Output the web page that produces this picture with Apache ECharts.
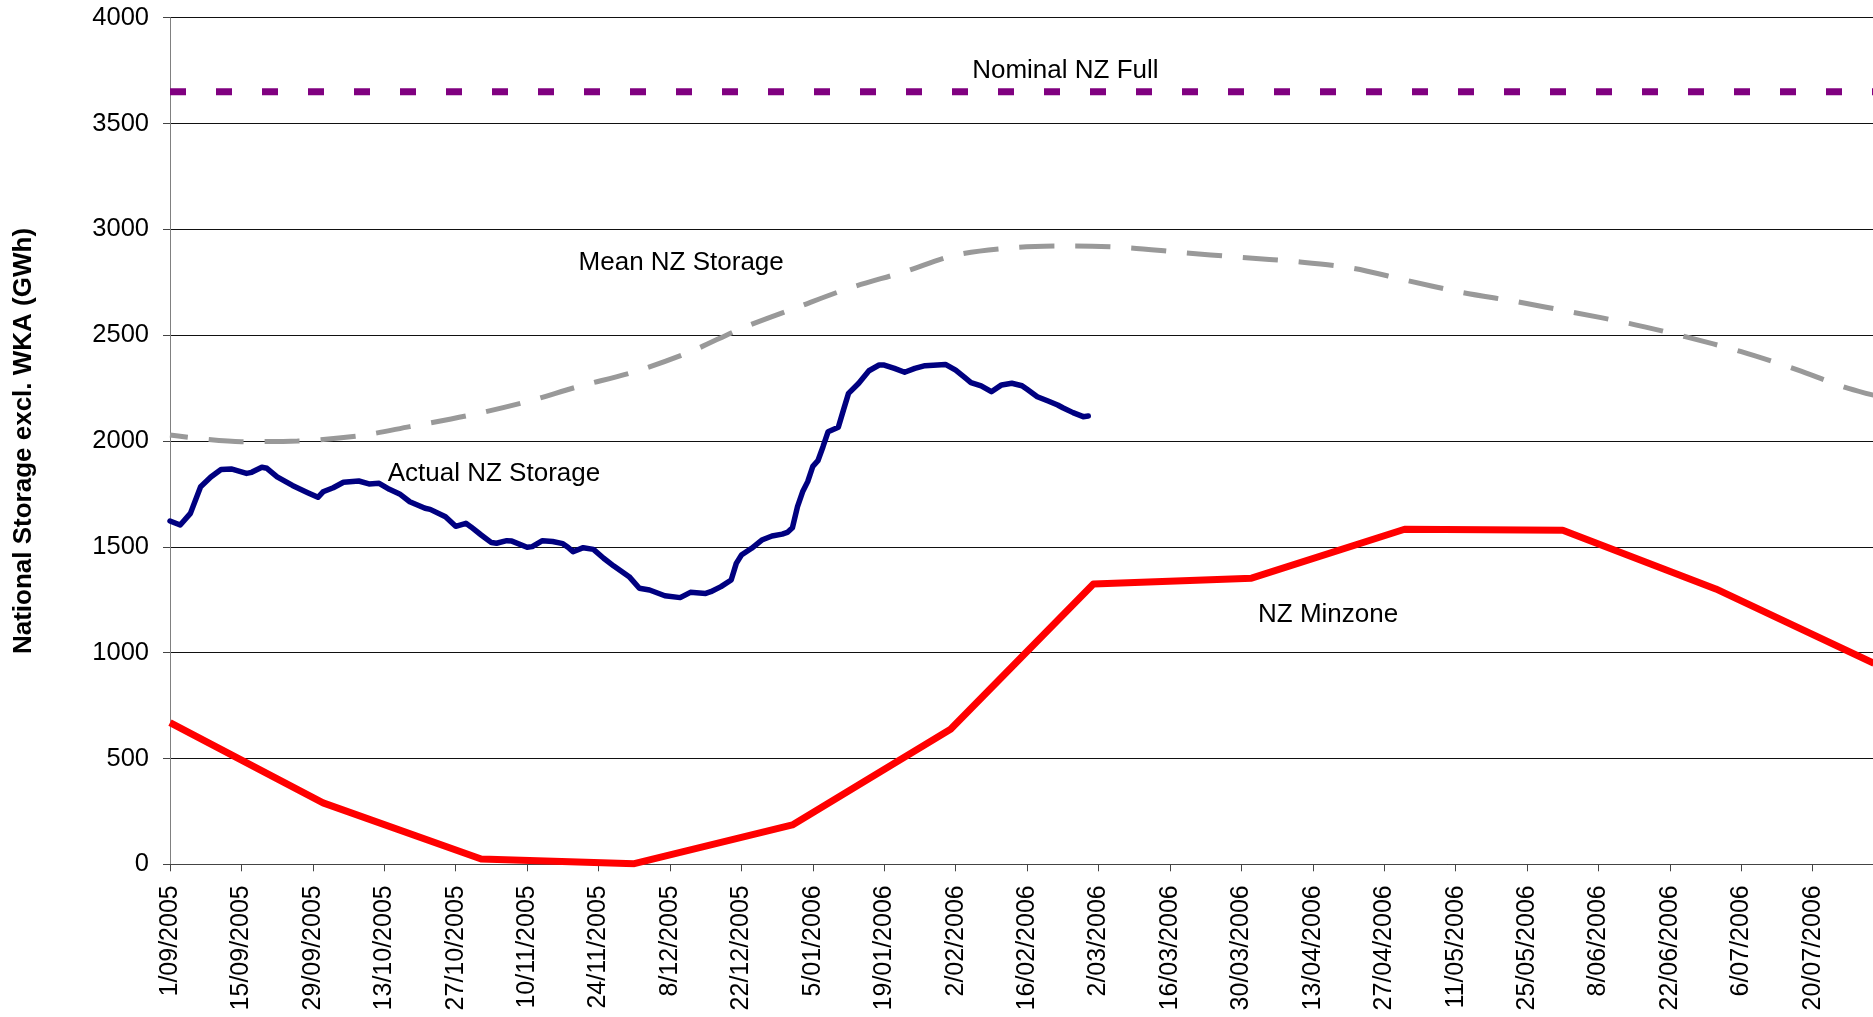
<!DOCTYPE html>
<html>
<head>
<meta charset="utf-8">
<title>NZ Storage</title>
<script src="https://cdn.jsdelivr.net/npm/echarts@6.0.0/dist/echarts.min.js"></script>
<style>
    html, body { margin: 0; padding: 0; background: #fff; }
    #chart { width: 1873px; height: 1017px; }
</style>
</head>
<body>
<div id="chart"></div>
<script>
// days counted from 1/09/2005
var actualDays = [0, 2, 4, 6, 8, 10, 12, 15, 16, 18, 19, 21, 24, 27, 29, 30, 32, 34, 37, 39,
    41, 43, 45, 47, 50, 51, 54, 56, 58, 59, 61, 63, 64, 66, 67, 70, 71, 73, 75, 77,
    78, 79, 81, 83, 85, 87, 90, 92, 94, 97, 100, 102, 105, 106, 108, 110, 111, 112, 114, 116,
    118, 120, 121, 122, 123, 124, 125, 126, 127, 128, 129, 131, 132, 133, 135, 137, 139, 140, 142, 144,
    146, 148, 152, 154, 156, 157, 159, 161, 163, 165, 167, 168, 170, 172, 174, 175, 177, 179, 180];
var actualGWh = [1622, 1603, 1658, 1784, 1830, 1865, 1868, 1847, 1852, 1876, 1871, 1831, 1790, 1756, 1734, 1760, 1779, 1805, 1811, 1797,
    1800, 1772, 1750, 1713, 1682, 1677, 1642, 1597, 1611, 1594, 1556, 1520, 1517, 1529, 1527, 1498, 1501, 1529, 1525, 1515,
    1498, 1477, 1496, 1488, 1446, 1409, 1359, 1304, 1296, 1269, 1260, 1285, 1280, 1288, 1312, 1343, 1422, 1461, 1493, 1532,
    1551, 1560, 1568, 1590, 1690, 1760, 1808, 1880, 1907, 1973, 2044, 2065, 2146, 2225, 2273, 2332, 2359, 2359, 2343, 2325,
    2343, 2356, 2362, 2335, 2296, 2276, 2260, 2233, 2265, 2273, 2261, 2244, 2209, 2190, 2170, 2157, 2134, 2115, 2118];

var meanDays = [0, 14, 25, 37, 47, 59, 70, 80, 91, 102, 112, 123, 133, 144, 154, 166, 177, 188, 198, 210,
    221, 232, 242, 253, 264, 275, 286, 297, 308, 319, 329, 345];
var meanGWh = [2028, 1997, 2000, 2024, 2068, 2123, 2186, 2257, 2327, 2422, 2532, 2632, 2721, 2800, 2879, 2915, 2921, 2913, 2891, 2868,
    2847, 2816, 2761, 2703, 2658, 2608, 2556, 2493, 2422, 2336, 2249, 2150];

var minzoneDays = [0, 30, 61, 91, 122, 153, 181, 212, 242, 273, 303, 334];
var minzoneGWh = [669, 290, 25, 3, 186, 638, 1324, 1352, 1583, 1578, 1301, 950];

var nominalDays = [0, 364];
var nominalGWh = [3650, 3650];

var yTicks = { min: 0, max: 4000, step: 500 };
var xTicks = { first: 0, last: 364, step: 14, lastLabel: 322 };

(function() {
    var font = "'Liberation Sans', Arial, sans-serif",
        chart = echarts.init(document.getElementById("chart"), null, { renderer: "canvas" });

    function pairs(xs, ys) {
        return xs.map(function(x, i) {
            return [x, ys[i]];
        });
    }

    function dateLabel(day) {
        if (day > xTicks.lastLabel) return "";
        var d = new Date(2005, 8, 1 + day);
        return d.getDate() + "/" + ("0" + (d.getMonth() + 1)).slice(-2) + "/" + d.getFullYear();
    }

    function note(text, day, value) {
        return {
            symbol: "circle",
            symbolSize: 0,
            data: [{
                coord: [day, value],
                label: {
                    show: true,
                    position: "inside",
                    formatter: text,
                    color: "#000",
                    fontFamily: font,
                    fontSize: 26
                }
            }]
        };
    }

    var option = {
        animation: false,
        backgroundColor: "#fff",
        // the plot runs on past the right edge of the page (to end of August)
        grid: {
            left: 170,
            top: 17.7,
            width: 1857,
            height: 846.6,
            containLabel: false,
            outerBoundsMode: "none"
        },
        xAxis: {
            type: "value",
            min: xTicks.first,
            max: xTicks.last,
            interval: xTicks.step,
            axisLine: { show: true, onZero: false, lineStyle: { color: "#444", width: 1 } },
            axisTick: { show: true, inside: false, length: 7, lineStyle: { color: "#444" } },
            splitLine: { show: false },
            axisLabel: {
                rotate: 90,
                margin: 21,
                color: "#000",
                fontFamily: font,
                fontSize: 25,
                formatter: dateLabel
            }
        },
        yAxis: {
            type: "value",
            min: yTicks.min,
            max: yTicks.max,
            interval: yTicks.step,
            name: "National Storage excl. WKA (GWh)",
            nameLocation: "middle",
            nameGap: 133,
            nameTextStyle: {
                color: "#000",
                fontFamily: font,
                fontSize: 26,
                fontWeight: "bold"
            },
            axisLine: { show: true, lineStyle: { color: "#808080", width: 1 } },
            axisTick: { show: true, inside: false, length: 7, lineStyle: { color: "#444" } },
            splitLine: { show: true, lineStyle: { color: "#111", width: 1 } },
            axisLabel: {
                margin: 21,
                color: "#000",
                fontFamily: font,
                fontSize: 25.5,
                formatter: function(v) {
                    return String(v);
                }
            }
        },
        series: [{
                name: "Nominal NZ Full",
                type: "line",
                symbol: "none",
                data: pairs(nominalDays, nominalGWh),
                lineStyle: { color: "#800080", width: 7, type: [16, 30], cap: "butt" },
                markPoint: note("Nominal NZ Full", 175.5, 3747)
            },
            {
                name: "Mean NZ Storage",
                type: "line",
                symbol: "none",
                smooth: 0.3,
                data: pairs(meanDays, meanGWh),
                lineStyle: { color: "#999999", width: 5, type: [35, 21], dashOffset: 17, cap: "butt" },
                markPoint: note("Mean NZ Storage", 100.2, 2843)
            },
            {
                name: "Actual NZ Storage",
                type: "line",
                symbol: "none",
                data: pairs(actualDays, actualGWh),
                lineStyle: { color: "#000080", width: 5.5, join: "round", cap: "round" },
                markPoint: note("Actual NZ Storage", 63.5, 1844)
            },
            {
                name: "NZ Minzone",
                type: "line",
                symbol: "none",
                data: pairs(minzoneDays, minzoneGWh),
                lineStyle: { color: "#ff0000", width: 7, join: "round" },
                markPoint: note("NZ Minzone", 227, 1178)
            }
        ]
    };

    chart.setOption(option);
}());
</script>
</body>
</html>
